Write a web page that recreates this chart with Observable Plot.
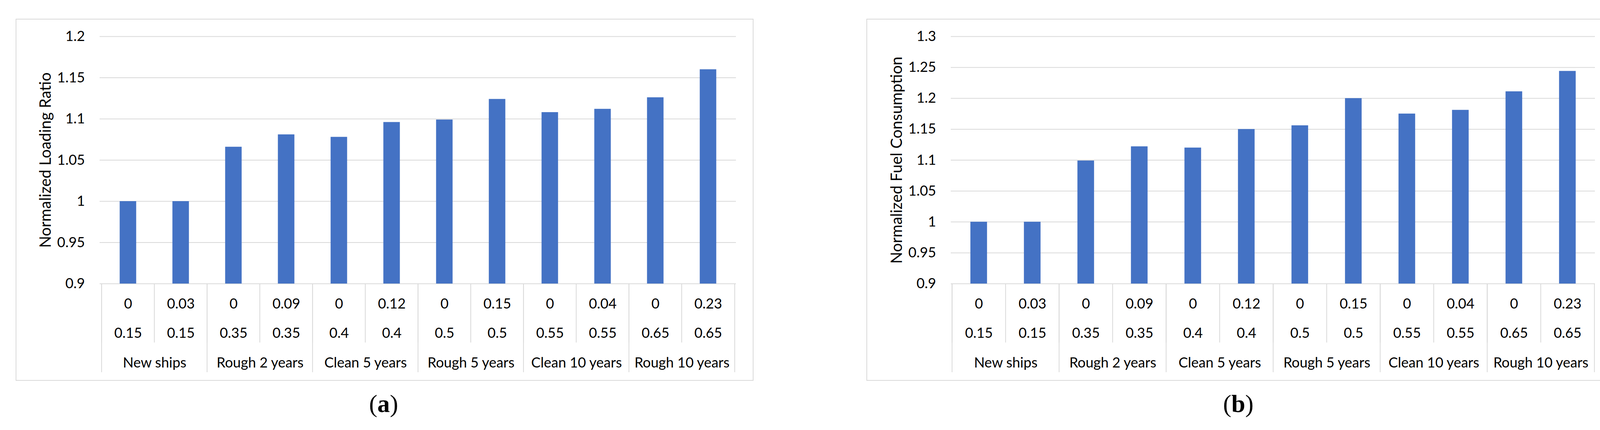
<!DOCTYPE html>
<html><head><meta charset="utf-8">
<script src="https://cdn.jsdelivr.net/npm/d3@7"></script>
<script src="https://cdn.jsdelivr.net/npm/@observablehq/plot@0.6"></script>
<style>
html,body{margin:0;padding:0;background:#fff;}
body{width:4128px;height:1101px;position:relative;overflow:hidden;}
.panel{position:absolute;top:50px;}
.panel svg{display:block;outline:2px solid #d9d9d9;}
.cap{position:absolute;top:1002px;width:200px;text-align:center;font-family:"Liberation Serif",serif;font-size:64px;line-height:64px;color:#000;}
</style></head><body>
<div id="pa" class="panel" style="left:42px"></div>
<div id="pb" class="panel" style="left:2220px"></div>
<div class="cap" style="left:882px">(<b>a</b>)</div>
<div class="cap" style="left:3070px">(<b>b</b>)</div>
<script>
const groups = ["New ships", "Rough 2 years", "Clean 5 years", "Rough 5 years", "Clean 10 years", "Rough 10 years"];
const barGroup = ["New ships", "New ships", "Rough 2 years", "Rough 2 years", "Clean 5 years", "Clean 5 years",
  "Rough 5 years", "Rough 5 years", "Clean 10 years", "Clean 10 years", "Rough 10 years", "Rough 10 years"];
const roughness = ["0", "0.03", "0", "0.09", "0", "0.12", "0", "0.15", "0", "0.04", "0", "0.23"];
const fouling = ["0.15", "0.15", "0.35", "0.35", "0.4", "0.4", "0.5", "0.5", "0.55", "0.55", "0.65", "0.65"];
const loadingRatio = [1.0, 1.0, 1.066, 1.081, 1.078, 1.096, 1.099, 1.124, 1.108, 1.112, 1.126, 1.160];
const fuelConsumption = [1.0, 1.0, 1.099, 1.122, 1.120, 1.150, 1.156, 1.200, 1.175, 1.181, 1.211, 1.244];
const yTicksA = [0.9, 0.95, 1, 1.05, 1.1, 1.15, 1.2];
const yTicksB = [0.9, 0.95, 1, 1.05, 1.1, 1.15, 1.2, 1.25, 1.3];

function panel({values, ticks, label, width, marginLeft, marginRight}) {
  const height = 923, marginTop = 43, marginBottom = 247;
  const keys = values.map((_, i) => i);
  const rows = values.map((v, i) => ({key: i, value: v, r1: roughness[i], r2: fouling[i], group: barGroup[i]}));
  const groupRows = groups.map(g => ({name: g, key: barGroup.indexOf(g)}));
  const bw = (width - marginLeft - marginRight) / keys.length;
  const groupStarts = groupRows.map(d => d.key);
  const grid = "#d9d9d9";
  const fs = 36;
  const inset = (bw - 43) / 2;
  return Plot.plot({
    width, height, marginTop, marginBottom, marginLeft, marginRight,
    style: {fontFamily: "Lato, sans-serif", fontSize: fs + "px", color: "#000", background: "#fff", overflow: "visible"},
    x: {type: "band", domain: keys, padding: 0},
    y: {domain: [ticks[0], ticks[ticks.length - 1]]},
    marks: [
      Plot.gridY(ticks, {stroke: grid, strokeOpacity: 1, strokeWidth: 2}),
      Plot.axisX(keys, {tickSize: 151, dx: -bw / 2, stroke: grid, strokeOpacity: 1, strokeWidth: 2, fill: "none", label: null}),
      Plot.axisX(groupStarts, {tickSize: 227, dx: -bw / 2, stroke: grid, strokeOpacity: 1, strokeWidth: 2, fill: "none", label: null}),
      Plot.axisX([keys[keys.length - 1]], {tickSize: 227, dx: bw / 2, stroke: grid, strokeOpacity: 1, strokeWidth: 2, fill: "none", label: null}),
      Plot.barY(rows, {x: "key", y1: ticks[0], y2: "value", fill: "#4472C4", insetLeft: inset, insetRight: inset}),
      Plot.axisY(ticks, {tickSize: 0, tickPadding: 38, tickFormat: d => String(+d.toFixed(2)), fontSize: fs, label: null}),
      Plot.text(rows, {x: "key", text: "r1", frameAnchor: "bottom", lineAnchor: "middle", dy: 52, fontSize: fs}),
      Plot.text(rows, {x: "key", text: "r2", frameAnchor: "bottom", lineAnchor: "middle", dy: 127, fontSize: fs}),
      Plot.text(groupRows, {x: "key", text: "name", frameAnchor: "bottom", lineAnchor: "middle", dy: 203, dx: bw / 2, fontSize: fs}),
      Plot.text([label], {text: d => d, frameAnchor: "left", textAnchor: "middle", lineAnchor: "middle", rotate: -90, dx: -138, fontSize: 40, letterSpacing: "2.3px"})
    ]
  });
}

document.getElementById("pa").append(panel({values: loadingRatio, ticks: yTicksA, label: "Normalized Loading Ratio", width: 1885, marginLeft: 213, marginRight: 43}));
document.getElementById("pb").append(panel({values: fuelConsumption, ticks: yTicksB, label: "Normalized Fuel Consumption", width: 1905, marginLeft: 214, marginRight: 42}));
</script>
</body></html>
